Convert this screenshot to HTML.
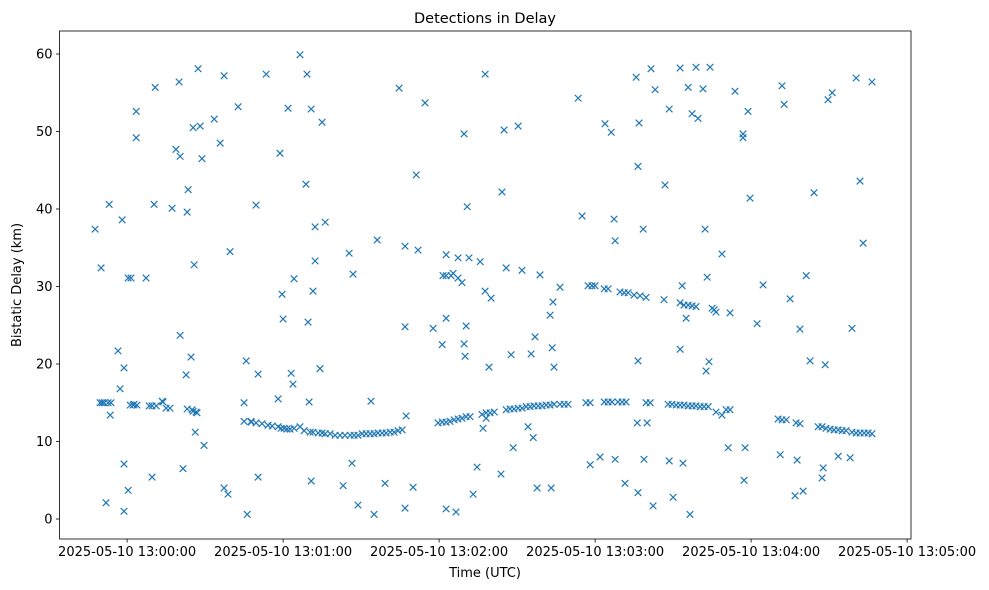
<!DOCTYPE html>
<html><head><meta charset="utf-8"><style>
html,body{margin:0;padding:0;background:#fff;}
svg{display:block;font-family:"DejaVu Sans","Liberation Sans",sans-serif;}
</style></head><body>
<svg id="chart" width="989" height="590" viewBox="0 0 989 590" xmlns="http://www.w3.org/2000/svg">
<rect x="59.5" y="31" width="851.5" height="508" fill="#fff" stroke="#000" stroke-width="0.8"/>
<text x="485" y="23" text-anchor="middle" font-size="14.5">Detections in Delay</text>
<text x="485" y="577" text-anchor="middle" font-size="13">Time (UTC)</text>
<text transform="translate(21,285) rotate(-90)" text-anchor="middle" font-size="13">Bistatic Delay (km)</text>
<g id="axes"></g>
<g id="marks"></g>
</svg>
<script>
// seconds after 2025-05-10 13:00:00
const times = [-12.3,-10.0,-9.6,-8.1,-6.9,-7.3,-6.5,-3.5,-2.7,-1.9,-1.2,-1.2,-1.2,0.4,0.4,1.5,2.7,3.5,3.5,7.3,9.6,10.8,10.4,13.8,17.3,18.8,20.0,20.4,20.4,21.5,22.7,23.1,23.5,24.6,25.0,25.4,25.8,26.2,26.9,27.3,28.1,28.8,29.6,33.5,35.8,37.3,37.3,38.8,39.6,42.7,45.0,45.8,46.2,47.7,49.6,50.4,50.4,53.5,58.1,59.6,58.8,60.0,61.9,63.1,63.8,64.2,66.5,68.8,69.2,69.6,70.0,70.8,70.8,71.5,72.3,72.3,74.2,75.0,76.2,83.1,85.4,86.5,86.9,88.8,93.8,95.0,96.2,99.2,104.6,106.9,106.9,106.9,107.3,110.0,111.2,111.9,114.6,117.7,121.2,121.5,122.7,122.7,122.7,122.7,124.6,125.4,126.5,127.3,127.3,128.8,129.6,130.0,129.6,130.8,130.4,131.5,133.1,134.6,135.8,136.9,137.7,137.7,138.1,139.2,140.0,143.8,144.2,145.0,145.8,147.7,148.5,150.4,151.9,154.2,155.4,156.2,156.9,157.7,158.8,162.7,163.1,163.5,163.8,164.2,166.5,173.5,175.0,178.1,180.0,181.9,183.8,186.2,187.3,187.7,187.7,191.5,195.8,196.2,196.5,196.5,196.5,196.9,198.5,198.8,200.0,201.5,202.3,203.1,206.9,208.5,208.5,210.0,212.7,212.7,213.8,213.5,215.8,216.5,217.3,218.8,219.6,221.5,222.3,222.7,223.1,223.8,224.2,228.8,231.2,233.8,236.9,236.9,237.7,237.3,238.8,239.6,242.3,244.6,251.2,251.9,252.7,255.0,256.9,257.7,258.8,261.2,260.0,262.7,264.2,267.3,267.7,268.5,269.6,271.2,273.5,278.1,278.8,280.4,281.9,283.1,286.5,
-10.4,-8.8,-6.2,1.2,2.3,3.8,8.5,9.6,11.2,13.5,15.0,16.5,23.1,25.4,26.5,45.0,47.7,49.6,51.9,54.2,55.8,58.1,59.2,60.4,61.5,62.7,64.2,66.5,68.1,70.4,71.5,73.5,75.0,76.2,78.1,80.0,81.9,83.8,85.8,87.3,88.8,90.4,91.9,93.5,95.0,96.5,98.1,99.6,101.2,102.7,104.2,105.8,119.6,121.2,122.7,124.2,125.8,127.3,128.8,130.4,131.9,136.5,138.1,139.6,141.2,145.8,147.3,148.8,150.4,151.9,153.5,155.0,156.5,158.1,159.6,161.2,162.7,164.2,166.5,168.1,169.6,176.5,178.1,183.5,185.0,186.5,188.8,190.4,191.9,199.6,201.2,208.1,209.6,211.2,212.7,214.2,215.8,217.3,218.8,220.4,221.9,223.5,226.5,228.8,230.4,231.9,250.4,251.9,253.5,257.3,258.8,265.8,267.3,268.8,270.4,271.9,273.5,275.0,276.5,278.8,280.4,281.9,283.5,285.0,286.5,
177.3,178.8,183.5,185.0,189.6,191.2,192.7,195.0,197.3,199.6,206.5,212.7,214.2,215.8,217.3,218.8,225.0,225.8,226.5,231.9,215.0];
const delays = [37.4,32.4,15.0,2.1,40.6,15.0,13.4,21.7,16.8,38.6,19.5,7.1,1.0,3.7,31.1,31.1,14.8,52.6,49.2,31.1,5.4,55.7,40.6,15.1,40.1,47.7,56.4,46.8,23.7,6.5,18.6,39.6,42.5,20.9,14.1,50.5,32.8,11.2,13.7,58.1,50.7,46.5,9.5,51.6,48.5,57.2,4.0,3.2,34.5,53.2,15.0,20.4,0.6,12.6,40.5,18.7,5.4,57.4,15.5,29.0,47.2,25.8,53.0,18.8,17.4,31.0,59.9,43.2,57.4,25.4,15.1,4.9,52.9,29.4,33.3,37.7,19.4,51.2,38.3,4.3,34.3,7.2,31.6,1.8,15.2,0.6,36.0,4.6,55.6,1.4,35.2,24.8,13.3,4.1,44.4,34.7,53.7,24.6,22.5,31.4,31.4,1.3,25.9,34.1,31.4,31.7,0.9,33.7,31.1,30.5,22.6,21.0,49.7,40.3,24.9,33.7,3.2,6.7,33.2,11.7,57.4,29.4,13.0,19.6,28.5,5.8,42.2,50.2,32.4,21.2,9.2,50.7,32.1,11.9,21.3,10.5,23.5,4.0,31.5,26.3,4.0,22.1,28.0,19.6,29.9,54.3,39.1,7.0,30.1,8.0,51.0,49.9,38.7,7.7,35.9,4.6,57.0,12.4,3.4,45.5,20.4,51.1,37.4,7.7,12.4,58.1,1.7,55.4,43.1,52.9,7.5,2.8,58.2,21.9,7.2,30.1,55.7,0.6,52.3,58.3,51.7,55.5,37.4,19.1,31.2,20.3,58.3,34.2,9.2,55.2,49.7,49.2,9.2,5.0,52.6,41.4,25.2,30.2,8.3,55.9,53.5,28.4,3.0,7.6,24.5,31.4,3.6,20.4,42.1,5.3,6.6,19.9,54.1,55.0,8.1,7.9,24.6,56.9,43.6,35.6,56.4,
15.0,15.0,15.0,14.7,14.7,14.7,14.6,14.6,14.6,15.2,14.3,14.3,14.2,13.9,13.8,12.6,12.5,12.4,12.3,12.1,12.0,11.9,11.7,11.7,11.6,11.6,11.7,11.9,11.4,11.2,11.2,11.1,11.1,11.0,11.0,10.8,10.8,10.8,10.8,10.8,10.8,11.0,11.0,11.0,11.0,11.1,11.1,11.1,11.2,11.2,11.4,11.5,12.4,12.5,12.5,12.6,12.8,12.9,13.0,13.2,13.2,13.5,13.7,13.7,13.8,14.1,14.2,14.2,14.3,14.3,14.5,14.5,14.6,14.6,14.6,14.7,14.7,14.8,14.8,14.8,14.8,15.0,15.0,15.1,15.1,15.1,15.1,15.1,15.1,15.0,15.0,14.8,14.8,14.7,14.7,14.7,14.6,14.6,14.6,14.5,14.5,14.5,13.8,13.4,14.1,14.1,12.9,12.8,12.8,12.4,12.3,11.9,11.9,11.7,11.6,11.5,11.5,11.4,11.4,11.2,11.1,11.1,11.1,11.1,11.0,
30.1,30.1,29.7,29.7,29.3,29.2,29.2,28.9,28.8,28.6,28.3,27.9,27.6,27.6,27.5,27.4,27.2,27.0,26.7,26.6,25.9];
const yTicks = [0,10,20,30,40,50,60];
const xTicks = [0,60,120,180,240,300];
const xTickLabels = ["2025-05-10 13:00:00","2025-05-10 13:01:00","2025-05-10 13:02:00","2025-05-10 13:03:00","2025-05-10 13:04:00","2025-05-10 13:05:00"];

const NS="http://www.w3.org/2000/svg";
const L=59.5,R=911,T=31,B=539;
const xMin=-26,xMax=301.5,yMin=-2.58,yMax=62.97;
function xs(v){return L+(v-xMin)/(xMax-xMin)*(R-L);}
function ys(v){return B-(v-yMin)/(yMax-yMin)*(B-T);}
const axes=document.getElementById('axes');
const marks=document.getElementById('marks');
function mk(tag,attrs,parent){const e=document.createElementNS(NS,tag);for(const k in attrs)e.setAttribute(k,attrs[k]);parent.appendChild(e);return e;}
yTicks.forEach(v=>{
  const y=ys(v);
  const t=mk('line',{x1:L-3.5,x2:L,y1:y,y2:y,stroke:'#000','stroke-width':0.8},axes);
  
  
  const tx=mk('text',{x:L-7,y:y+4.5,'text-anchor':'end','font-size':13},axes);
  
  
  tx.textContent=v;
});
xTicks.forEach((v,i)=>{
  const x=xs(v);
  const t=mk('line',{x1:x,x2:x,y1:B,y2:B+3.5,stroke:'#000','stroke-width':0.8},axes);
  
  
  const tx=mk('text',{x:x,y:B+17,'text-anchor':'middle','font-size':13},axes);
  
  
  tx.textContent=xTickLabels[i];
});
const s=3.3;
for(let i=0;i<times.length&&i<delays.length;i++){
  const x=xs(times[i]),y=ys(delays[i]);
  const p=mk('path',{d:`M${x-s},${y-s}L${x+s},${y+s}M${x-s},${y+s}L${x+s},${y-s}`,stroke:'#1f77b4','stroke-width':1.2,fill:'none'},marks);
  
  
}
</script>
</body></html>
